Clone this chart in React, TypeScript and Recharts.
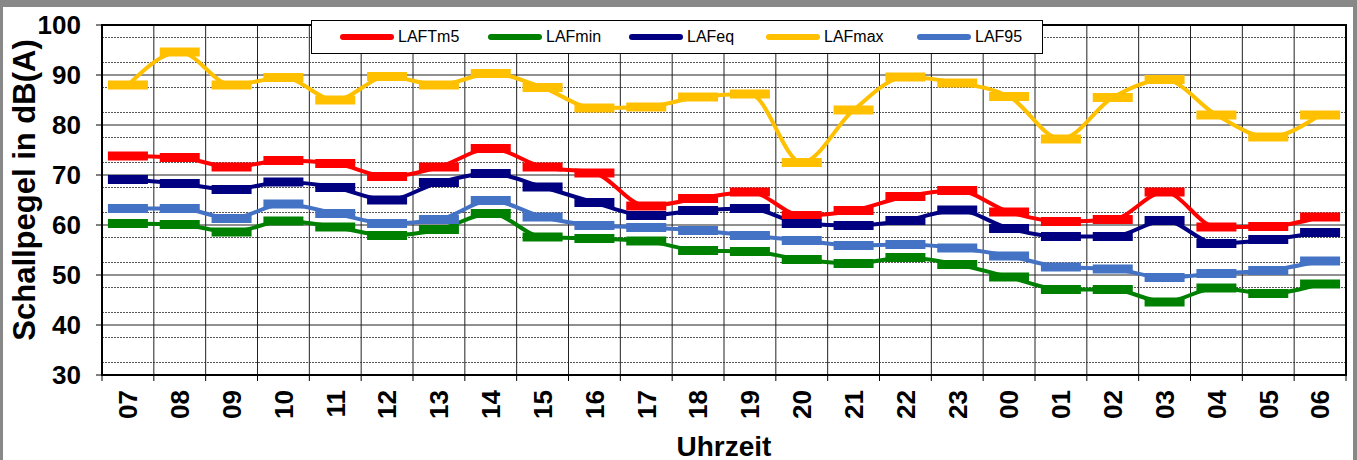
import React from 'react';
import {
  LineChart, Line, XAxis, YAxis, CartesianGrid, ReferenceArea,
} from 'recharts';

const HOURS = ['07', '08', '09', '10', '11', '12', '13', '14', '15', '16', '17', '18',
  '19', '20', '21', '22', '23', '00', '01', '02', '03', '04', '05', '06'];

const LAFTM5 = [73.8, 73.5, 71.6, 72.9, 72.3, 69.7, 71.6, 75.3, 71.6, 70.4, 63.8, 65.3,
  66.6, 61.9, 62.9, 65.7, 66.9, 62.6, 60.7, 61.1, 66.6, 59.6, 59.7, 61.6];
const LAFMIN = [60.3, 60.1, 58.6, 60.8, 59.6, 57.9, 59.1, 62.3, 57.6, 57.3, 56.8, 54.9,
  54.7, 53.1, 52.3, 53.5, 52.1, 49.6, 47.1, 47.1, 44.6, 47.4, 46.3, 48.2];
const LAFEQ = [69.1, 68.3, 67.1, 68.6, 67.5, 65.0, 68.5, 70.3, 67.6, 64.5, 61.9, 62.9,
  63.3, 60.3, 59.9, 60.9, 63.0, 59.3, 57.7, 57.7, 60.9, 56.3, 57.1, 58.5];
const LAFMAX = [88.0, 94.6, 88.0, 89.5, 85.0, 89.7, 88.0, 90.3, 87.5, 83.4, 83.6, 85.6,
  86.2, 72.5, 83.0, 89.6, 88.4, 85.7, 77.2, 85.5, 89.1, 82.0, 77.6, 82.0];
const LAF95 = [63.3, 63.3, 61.3, 64.2, 62.3, 60.3, 61.1, 64.9, 61.6, 59.9, 59.5, 58.9,
  57.9, 56.9, 55.9, 56.1, 55.4, 53.8, 51.6, 51.2, 49.5, 50.3, 50.9, 52.8];

const Y_TICKS = [30, 40, 50, 60, 70, 80, 90, 100];
const Y_MINOR = [32.5, 35, 37.5, 42.5, 45, 47.5, 52.5, 55, 57.5, 62.5, 65, 67.5,
  72.5, 75, 77.5, 82.5, 85, 87.5, 92.5, 95, 97.5];

const SERIES = [
  { key: 'LAFTm5', color: '#ff0000', values: LAFTM5 },
  { key: 'LAFmin', color: '#008000', values: LAFMIN },
  { key: 'LAFeq', color: '#000080', values: LAFEQ },
  { key: 'LAFmax', color: '#ffc000', values: LAFMAX },
  { key: 'LAF95', color: '#4472c4', values: LAF95 },
];

// legend item offsets inside the legend box
const LEGEND_X = [28, 176, 317, 454, 605];

const data = HOURS.map((h, i) => {
  const row: any = { hour: h };
  SERIES.forEach(s => { row[s.key] = s.values[i]; });
  return row;
});

const FONT = '"Liberation Sans", Arial, sans-serif';
const PLOT_W = 1244;

// category boundaries for the vertical grid
const boundaryLines = ({ offset }: any) =>
  Array.from({ length: HOURS.length + 1 }, (_, i) => offset.left + (i * offset.width) / HOURS.length);

const HourTick = (p: any) => {
  const bw = (p.width || PLOT_W) / HOURS.length;
  const y = p.y + 9;
  const left = p.x - bw / 2;
  return (
    <g>
      <line x1={left} x2={left} y1={p.y - 6} y2={p.y} stroke="#000" />
      {p.index === HOURS.length - 1 && (
        <line x1={left + bw} x2={left + bw} y1={p.y - 6} y2={p.y} stroke="#000" />
      )}
      <text x={p.x} y={y} transform={`rotate(-90 ${p.x} ${y})`} textAnchor="end" dy="0.36em"
        fontFamily={FONT} fontWeight="bold" fontSize={26} fill="#000">
        {p.payload.value}
      </text>
    </g>
  );
};

const makeDot = (color: string) => (p: any) => (
  <rect key={p.index} x={p.cx - 20} y={p.cy - 4.5} width={40} height={9} fill={color} />
);

export default function App() {
  return (
    <div style={{ position: 'absolute', left: 0, top: 0, width: 1357, height: 460, background: '#fff' }}>
      <div style={{
        position: 'absolute', inset: 0, boxSizing: 'border-box',
        borderTop: '7px solid #888', borderLeft: '3px solid #888', borderRight: '4px solid #888',
      }} />
      <div style={{ position: 'absolute', left: 0, top: 0 }}>
        <LineChart width={1357} height={460} data={data} margin={{ top: 25, right: 11, left: 0, bottom: 0 }}>
          <XAxis dataKey="hour" scale="band" interval={0} height={85}
            tickLine={false} axisLine={{ stroke: '#000', strokeWidth: 2 }} tickSize={6} tickMargin={0}
            tick={<HourTick />}
            label={{
              content: () => (
                <text x={724} y={446} textAnchor="middle" dominantBaseline="central"
                  fontFamily={FONT} fontWeight="bold" fontSize={28} fill="#000">Uhrzeit</text>
              ),
            }} />
          <YAxis yAxisId="main" domain={[30, 100]} ticks={Y_TICKS} width={102} allowDataOverflow
            tickSize={6} tickMargin={15}
            tickLine={{ stroke: '#000', strokeWidth: 1 }} axisLine={{ stroke: '#000', strokeWidth: 2 }}
            tick={{ fontFamily: FONT, fontWeight: 'bold', fontSize: 26, fill: '#000' }}
            label={{
              content: () => (
                <text x={24} y={190} transform="rotate(-90 24 190)" textAnchor="middle" dominantBaseline="central"
                  fontFamily={FONT} fontWeight="bold" fontSize={31} fill="#000">Schallpegel in dB(A)</text>
              ),
            }} />
          <YAxis yAxisId="minor" domain={[30, 100]} ticks={Y_MINOR} hide allowDataOverflow />
          <CartesianGrid yAxisId="minor" vertical={false} stroke="#555" strokeDasharray="2 1" />
          <CartesianGrid yAxisId="main" stroke="#222" verticalCoordinatesGenerator={boundaryLines} />
          <ReferenceArea yAxisId="main" y1={30} y2={100}
            fill="none" stroke="#000" strokeWidth={2} />
          {SERIES.map(s => (
            <Line key={s.key} yAxisId="main" type="monotone" dataKey={s.key}
              stroke={s.color} strokeWidth={4} dot={makeDot(s.color)} activeDot={false}
              isAnimationActive={false} />
          ))}
        </LineChart>
      </div>
      <div style={{
        position: 'absolute', left: 311, top: 20, width: 732, height: 34, boxSizing: 'border-box',
        border: '1px solid #000', background: '#fff', fontFamily: FONT, fontSize: 16,
      }}>
        {SERIES.map((s, i) => (
          <div key={s.key} style={{ position: 'absolute', left: LEGEND_X[i], top: 0, height: 32, display: 'flex', alignItems: 'center' }}>
            <span style={{ display: 'inline-block', width: 54, height: 6, borderRadius: 3, background: s.color, marginRight: 4 }} />
            <span>{s.key}</span>
          </div>
        ))}
      </div>
    </div>
  );
}
